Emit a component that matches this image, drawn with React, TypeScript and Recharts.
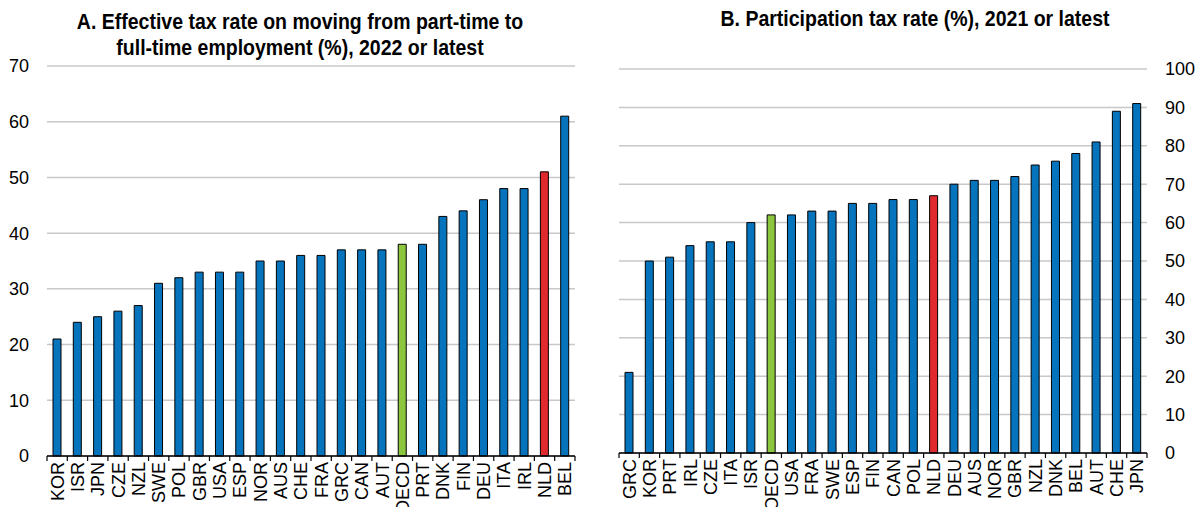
import React from 'react';
import { BarChart, Bar, XAxis, YAxis, CartesianGrid, Cell } from 'recharts';

const countriesA = ['KOR', 'ISR', 'JPN', 'CZE', 'NZL', 'SWE', 'POL', 'GBR', 'USA', 'ESP', 'NOR', 'AUS', 'CHE', 'FRA', 'GRC', 'CAN', 'AUT', 'OECD', 'PRT', 'DNK', 'FIN', 'DEU', 'ITA', 'IRL', 'NLD', 'BEL'];
const valuesA = [21, 24, 25, 26, 27, 31, 32, 33, 33, 33, 35, 35, 36, 36, 37, 37, 37, 38, 38, 43, 44, 46, 48, 48, 51, 61];
const ticksA = [0, 10, 20, 30, 40, 50, 60, 70];

const countriesB = ['GRC', 'KOR', 'PRT', 'IRL', 'CZE', 'ITA', 'ISR', 'OECD', 'USA', 'FRA', 'SWE', 'ESP', 'FIN', 'CAN', 'POL', 'NLD', 'DEU', 'AUS', 'NOR', 'GBR', 'NZL', 'DNK', 'BEL', 'AUT', 'CHE', 'JPN'];
const valuesB = [21, 50, 51, 54, 55, 55, 60, 62, 62, 63, 63, 65, 65, 66, 66, 67, 70, 71, 71, 72, 75, 76, 78, 81, 89, 91];
const ticksB = [0, 10, 20, 30, 40, 50, 60, 70, 80, 90, 100];

const BLUE = '#0673BD';
const GREEN = '#8CC63F';
const RED = '#E02A2E';
const FONT = '"Liberation Sans", Arial, sans-serif';
const PLOT_W = 528;

function barColor(name: string) {
  if (name === 'OECD') return GREEN;
  if (name === 'NLD') return RED;
  return BLUE;
}

// category ticks sit between the bars, so draw them from a custom tick
function makeTick(count: number) {
  const band = PLOT_W / count;
  return (props: any) => {
    const { x, y, payload, index } = props;
    return (
      <g>
        <line x1={x - band / 2} x2={x - band / 2} y1={y} y2={y + 5} stroke="#000" strokeWidth={1.2} />
        {index === count - 1 && (
          <line x1={x + band / 2} x2={x + band / 2} y1={y} y2={y + 5} stroke="#000" strokeWidth={1.2} />
        )}
        <text
          x={x}
          y={y + 6}
          transform={`rotate(-90, ${x}, ${y + 6})`}
          textAnchor="end"
          dy="0.36em"
          fontSize={18}
          fontFamily={FONT}
          fill="#000"
        >
          {payload.value}
        </text>
      </g>
    );
  };
}

function Panel({ names, values, ticks, side, width, margin, axisWidth, xHeight }: any) {
  const data = names.map((n: string, i: number) => ({ name: n, value: values[i] }));
  return (
    <BarChart width={width} height={507} data={data} margin={margin} barSize={8}>
      <CartesianGrid vertical={false} stroke="#C8C8C8" strokeWidth={1.5} />
      <XAxis
        dataKey="name"
        interval={0}
        height={xHeight}
        tickLine={false}
        tickSize={0}
        tickMargin={0}
        axisLine={{ stroke: '#000', strokeWidth: 1.5 }}
        tick={makeTick(names.length)}
      />
      <YAxis
        orientation={side}
        width={axisWidth}
        domain={[0, ticks[ticks.length - 1]]}
        ticks={ticks}
        interval={0}
        axisLine={false}
        tickLine={false}
        tickSize={0}
        tickMargin={18}
        tick={{ fontSize: 18, fontFamily: FONT, fill: '#000' }}
      />
      <Bar dataKey="value" stroke="#000" strokeWidth={1} isAnimationActive={false}>
        {data.map((d: any, i: number) => (
          <Cell key={i} fill={barColor(d.name)} />
        ))}
      </Bar>
    </BarChart>
  );
}

// titles are a bit taller than wide in the original, hence the scaleY
const titleStyle: React.CSSProperties = {
  position: 'absolute',
  fontFamily: FONT,
  fontWeight: 'bold',
  fontSize: 19.5,
  lineHeight: '24px',
  textAlign: 'center',
  color: '#000',
  whiteSpace: 'nowrap',
  transform: 'scaleY(1.14)',
  transformOrigin: 'center 18.75px',
};

export default function App() {
  return (
    <div style={{ position: 'absolute', left: 0, top: 0, width: 1204, height: 507, background: '#fff', overflow: 'hidden' }}>
      <div style={{ position: 'absolute', left: 0, top: 0 }}>
        <Panel
          names={countriesA}
          values={valuesA}
          ticks={ticksA}
          side="left"
          width={590}
          margin={{ top: 66, right: 15, left: 0, bottom: 0 }}
          axisWidth={47}
          xHeight={51}
        />
      </div>
      <div style={{ position: 'absolute', left: 590, top: 0 }}>
        <Panel
          names={countriesB}
          values={valuesB}
          ticks={ticksB}
          side="right"
          width={614}
          margin={{ top: 69, right: 0, left: 29, bottom: 0 }}
          axisWidth={57}
          xHeight={54}
        />
      </div>
      <div style={{ ...titleStyle, left: 0, width: 600, top: 10 }}>
        A. Effective tax rate on moving from part-time to
      </div>
      <div style={{ ...titleStyle, left: 0, width: 600, top: 36 }}>
        full-time employment (%), 2022 or latest
      </div>
      <div style={{ ...titleStyle, left: 615, width: 600, top: 7 }}>
        B. Participation tax rate (%), 2021 or latest
      </div>
    </div>
  );
}
